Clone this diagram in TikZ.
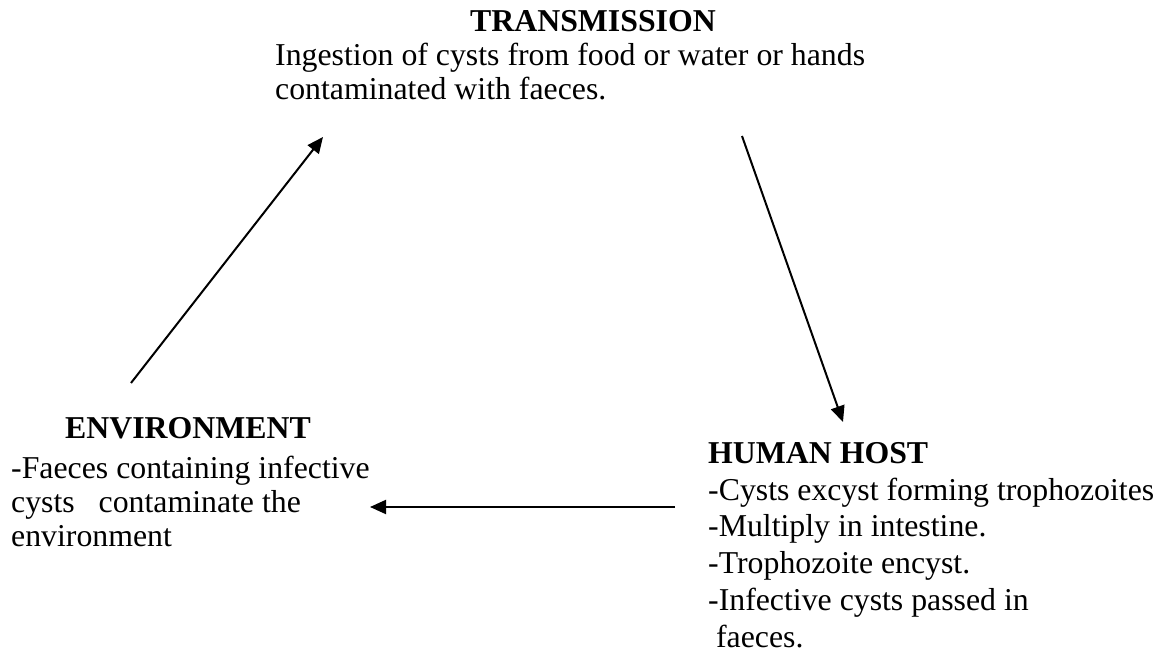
\documentclass[tikz,border=0pt]{standalone}
\usepackage{fontspec}
\setmainfont{Liberation Serif}
\usetikzlibrary{arrows.meta}
\begin{document}
\begin{tikzpicture}[x=1pt,y=1pt,
  txt/.style={anchor=base west,inner sep=0pt,font=\fontsize{31.8}{36.5}\selectfont},
  ttl/.style={anchor=base,inner sep=0pt,font=\fontsize{31.8}{36.5}\selectfont\bfseries},
  flow/.style={line width=2pt,-{Triangle[length=16pt,width=14pt]}}]
\path[use as bounding box,fill=white] (0,0) rectangle (1165,-652);
% Transmission
\node[ttl] (trT) at (593,-32) {TRANSMISSION};
\node[txt] (tr1) at (275,-66) {Ingestion of cysts from food or water or hands};
\node[txt] (tr2) at (275,-100) {contaminated with faeces.};
% Environment
\node[ttl] (enT) at (188,-438) {ENVIRONMENT};
\node[txt] (en1) at (11,-478) {-Faeces containing infective};
\node[txt] (en2) at (11,-512) {cysts\ \ \ contaminate the};
\node[txt] (en3) at (11,-546) {environment};
% Human host
\node[txt,font=\fontsize{31.8}{36.5}\selectfont\bfseries] (hhT) at (708,-463) {HUMAN HOST};
\node[txt] (hh1) at (708,-500) {-Cysts excyst forming trophozoites};
\node[txt] (hh2) at (708,-536) {-Multiply in intestine.};
\node[txt] (hh3) at (708,-573) {-Trophozoite encyst.};
\node[txt] (hh4) at (708,-610) {-Infective cysts passed in};
\node[txt] (hh5) at (708,-647) {\ faeces.};
% connectors
\coordinate (a1s) at (131,-383);
\coordinate (a1e) at (323,-137);
\coordinate (a2s) at (742,-136);
\coordinate (a2e) at (843,-422);
\coordinate (a3s) at (675,-507);
\coordinate (a3e) at (370,-507);
\draw[flow] (a1s) -- (a1e);
\draw[flow] (a2s) -- (a2e);
\draw[flow] (a3s) -- (a3e);
\end{tikzpicture}
\end{document}
